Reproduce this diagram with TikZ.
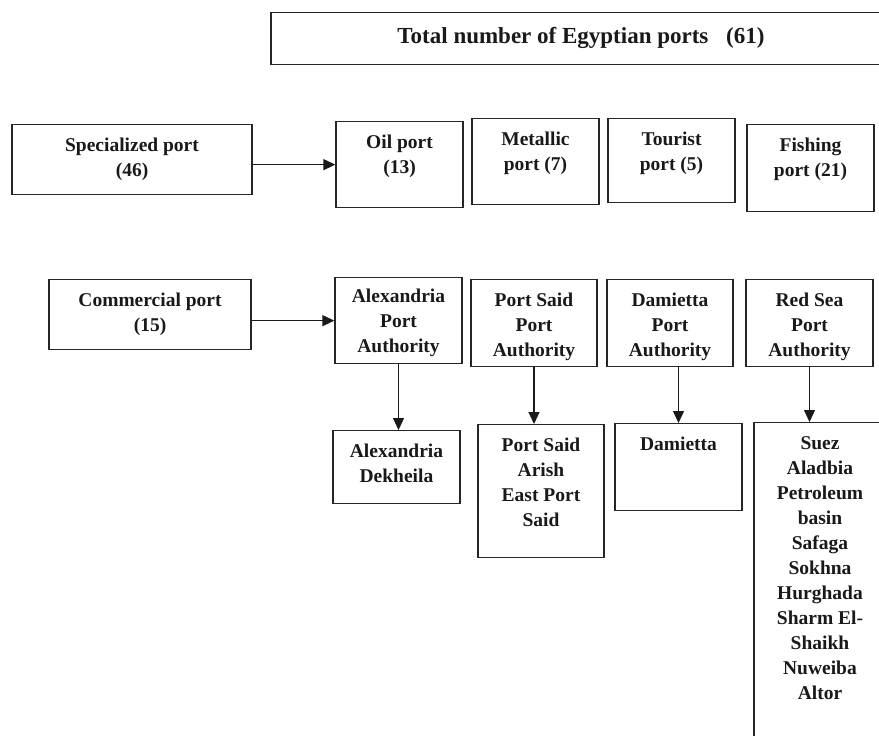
\documentclass[tikz,border=0pt]{standalone}
\usepackage{fontspec}
\setmainfont{Liberation Serif}
\usetikzlibrary{arrows.meta}

\newcommand{\portlines}[1]{\begin{tabular}[t]{@{}c@{}}#1\end{tabular}}

\tikzset{
  portbox/.style   = {draw=black!85, line width=1.3pt, anchor=north,
                      inner xsep=0pt, inner ysep=0pt, text height=27pt,
                      font=\fontsize{19.5}{25}\selectfont\bfseries, text=black!90},
  portarrow/.style = {draw=black!90, line width=1.3pt,
                      -{Triangle[length=12pt, width=11pt]}}
}

\begin{document}
\begin{tikzpicture}[x=1pt, y=-1pt]
  \useasboundingbox (0,0) rectangle (879,736);
  \clip             (0,0) rectangle (879,736);

  \node[portbox, minimum width=620pt, text height=31pt, text depth=21pt,
        font=\fontsize{23}{28}\selectfont\bfseries]
        (total)  at (581,  12) {Total number of Egyptian ports\hspace{12pt} (61)};

  \node[portbox, minimum width=240pt, text depth=43pt]
        (spec)   at (132, 124) {\portlines{Specialized port\\(46)}};
  \node[portbox, minimum width=127pt, text depth=59pt]
        (oil)    at (399.5, 121) {\portlines{Oil port\\(13)}};
  \node[portbox, minimum width=127pt, text depth=59pt]
        (metal)  at (535.5, 118) {\portlines{Metallic\\port (7)}};
  \node[portbox, minimum width=127pt, text depth=57pt]
        (tour)   at (671.5, 118) {\portlines{Tourist\\port (5)}};
  \node[portbox, minimum width=127pt, text depth=60pt]
        (fish)   at (810.5, 124) {\portlines{Fishing\\port (21)}};

  \node[portbox, minimum width=202pt, text depth=43pt]
        (comm)   at (150, 279) {\portlines{Commercial port\\(15)}};
  \node[portbox, minimum width=127pt, text height=25pt, text depth=61pt]
        (alexPA) at (398.5, 277) {\portlines{Alexandria\\Port\\Authority}};
  \node[portbox, minimum width=126pt, text depth=60pt]
        (psPA)   at (534, 279) {\portlines{Port Said\\Port\\Authority}};
  \node[portbox, minimum width=126pt, text depth=60pt]
        (damPA)  at (670, 279) {\portlines{Damietta\\Port\\Authority}};
  \node[portbox, minimum width=127pt, text depth=60pt]
        (rsPA)   at (809.5, 279) {\portlines{Red Sea\\Port\\Authority}};

  \node[portbox, minimum width=127pt, text depth=46pt]
        (dekh)   at (396.5, 430) {\portlines{Alexandria\\Dekheila}};
  \node[portbox, minimum width=126pt, text depth=106pt]
        (psList) at (541, 424) {\portlines{Port Said\\Arish\\East Port\\Said}};
  \node[portbox, minimum width=127pt, text depth=60pt]
        (dam)    at (678.5, 423) {Damietta};
  \node[portbox, minimum width=132pt, text depth=321pt]
        (rsList) at (820, 422) {\portlines{Suez\\Aladbia\\Petroleum\\basin\\Safaga\\Sokhna\\Hurghada\\Sharm El-\\Shaikh\\Nuweiba\\Altor}};

  \draw[portarrow] (spec.east |- oil.west)    -- (oil.west);
  \draw[portarrow] (comm.east |- alexPA.west) -- (alexPA.west);
  \draw[portarrow] (alexPA.south)             -- (alexPA.south |- dekh.north);
  \draw[portarrow] (psPA.south)               -- (psPA.south |- psList.north);
  \draw[portarrow] (dam.north |- damPA.south) -- (dam.north);
  \draw[portarrow] (rsPA.south)               -- (rsPA.south |- rsList.north);
\end{tikzpicture}
\end{document}
